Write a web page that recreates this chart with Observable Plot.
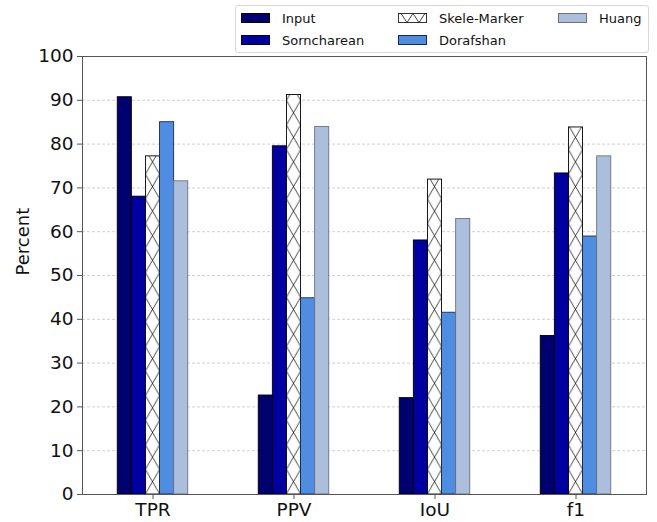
<!DOCTYPE html>
<html>
<head>
<meta charset="utf-8">
<script src="https://cdn.jsdelivr.net/npm/d3@7"></script>
<script src="https://cdn.jsdelivr.net/npm/@observablehq/plot@0.6"></script>
<style>
  body { margin: 0; background: #fff; font-family: "DejaVu Sans", sans-serif; }
  #wrap { position: relative; width: 657px; height: 522px; }
  #legend { position: absolute; left: 235px; top: 5px; width: 414px; height: 48px; border: 1px solid #d8d8d8; border-radius: 3px; box-sizing: border-box; background: rgba(255,255,255,0.9); font-size: 13px; color: #111; }
  .item { position: absolute; height: 14px; display: flex; align-items: center; white-space: nowrap; }
  .sw { width: 29px; height: 10px; box-sizing: border-box; border: 0.8px solid #000; margin-right: 12px; }
</style>
</head>
<body>
<div id="wrap">
  <div id="chart"></div>
  <div id="legend"></div>
</div>
<script>
const metrics = ["TPR", "PPV", "IoU", "f1"];
const methods = ["Input", "Sorncharean", "Skele-Marker", "Dorafshan", "Huang"];
const inputVals = [90.7, 22.6, 22.0, 36.2];
const sornchareanVals = [68.0, 79.5, 58.0, 73.3];
const skeleMarkerVals = [77.2, 91.2, 71.9, 83.8];
const dorafshanVals = [85.0, 44.8, 41.5, 58.9];
const huangVals = [71.5, 83.9, 62.9, 77.2];
const yTicks = [0, 10, 20, 30, 40, 50, 60, 70, 80, 90, 100];

const series = [inputVals, sornchareanVals, skeleMarkerVals, dorafshanVals, huangVals];
const fills = ["#00006e", "#0000a0", "url(#hatchX)", "#4f8de3", "#abbfdd"];
const strokes = ["#000", "#000", "#000", "#1c2a4a", "#6b7380"];
const barWidth = 0.1;

const rows = [];
series.forEach((vals, j) => vals.forEach((v, i) => rows.push({
  metric: metrics[i], method: methods[j], i, j, value: v,
  x1: i + (j - 2.5) * barWidth, x2: i + (j - 1.5) * barWidth
})));

const plot = Plot.plot({
  width: 657, height: 522,
  marginTop: 56, marginBottom: 28, marginLeft: 82, marginRight: 11,
  style: { fontFamily: "DejaVu Sans, sans-serif", fontSize: "18px", color: "#111", background: "#fff" },
  x: { domain: [-0.5, 3.5] },
  y: { domain: [0, 100] },
  color: { domain: methods, range: fills },
  marks: [
    Plot.ruleY(yTicks.filter(t => t > 0 && t < 100), { stroke: "#c4c4c4", strokeWidth: 0.8, strokeDasharray: "3,2" }),
    ...methods.map((m, j) => Plot.rectY(rows.filter(d => d.j === j), {
      x1: "x1", x2: "x2", y1: 0, y2: "value", fill: "method", stroke: strokes[j], strokeWidth: 0.9
    })),
    Plot.axisX({ ticks: [0, 1, 2, 3], tickFormat: i => metrics[i], tickSize: 5, tickPadding: 3, fontSize: 18.5, label: null, stroke: "#555" }),
    Plot.axisY({ ticks: yTicks, tickSize: 5, tickPadding: 4, fontSize: 18.5, label: null, stroke: "#555" }),
    Plot.text(["Percent"], { frameAnchor: "left", rotate: -90, dx: -59, fontSize: 18, fill: "#111" }),
    Plot.frame({ stroke: "#555", strokeWidth: 1 })
  ]
});

// hatch pattern derived from the x / y scales
const xs = plot.scale("x"), ys = plot.scale("y");
const pw = xs.apply(barWidth) - xs.apply(0);
const px = xs.apply(0 + (2 - 2.5) * barWidth);
const py = ys.apply(0);
const ns = "http://www.w3.org/2000/svg";
const defs = document.createElementNS(ns, "defs");
defs.innerHTML = `<pattern id="hatchX" patternUnits="userSpaceOnUse" x="${px}" y="${py}" width="${pw}" height="24.6">
  <rect width="${pw}" height="24.6" fill="#fff"/>
  <path d="M0,0L${pw},24.6M${pw},0L0,24.6" stroke="#111" stroke-width="0.8" fill="none"/>
</pattern>`;
plot.insertBefore(defs, plot.firstChild);
document.getElementById("chart").appendChild(plot);

// legend
const legend = document.getElementById("legend");
const pos = [[5, 5], [5, 27], [162, 5], [162, 27], [322, 5]];
methods.forEach((m, j) => {
  const it = document.createElement("div");
  it.className = "item";
  it.style.left = pos[j][0] + "px";
  it.style.top = pos[j][1] + "px";
  const sw = document.createElement("div");
  sw.className = "sw";
  sw.style.borderColor = strokes[j];
  if (j === 2) {
    sw.innerHTML = `<svg width="29" height="10" style="display:block"><rect x="0.4" y="0.4" width="28.2" height="9.2" fill="#fff" stroke="#000" stroke-width="0.8"/><path d="M3,0.4L9,9.6L15,0.4M15,0.4L21,9.6L27,0.4" stroke="#111" stroke-width="0.8" fill="none"/></svg>`;
    sw.style.border = "none";
  } else {
    sw.style.background = fills[j];
  }
  it.appendChild(sw);
  const t = document.createElement("span");
  t.textContent = m;
  it.appendChild(t);
  legend.appendChild(it);
});
</script>
</body>
</html>
